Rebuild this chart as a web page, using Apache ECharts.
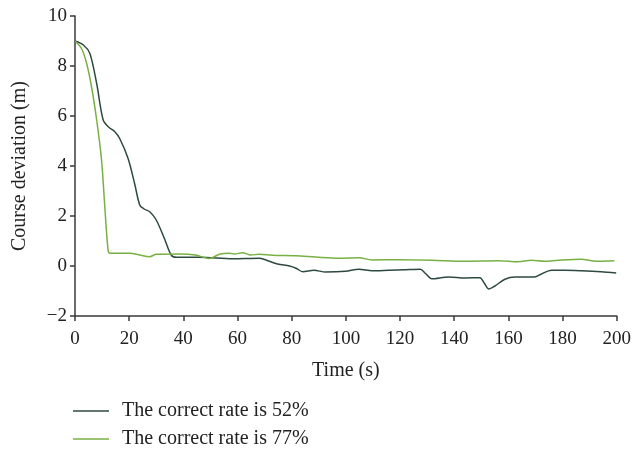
<!DOCTYPE html>
<html>
<head>
<meta charset="utf-8">
<script src="https://cdn.jsdelivr.net/npm/echarts@6/dist/echarts.min.js"></script>
<style>html,body{margin:0;padding:0;background:#fff}#c{width:634px;height:451px}</style>
</head>
<body>
<div id="c"></div>
<script>
var seriesNames = ['The correct rate is 52%', 'The correct rate is 77%'];
var xTicks = [0, 20, 40, 60, 80, 100, 120, 140, 160, 180, 200];
var yTicks = [-2, 0, 2, 4, 6, 8, 10];

var time52 = [0, 3.1, 5.5, 8, 10.4, 12.5, 14.7, 16.5, 19.6, 22, 23.9, 25.5, 27.6, 30, 33, 35.5, 37.4, 46, 58.2, 68, 70.5, 74.8, 79.2, 81.6, 84.1, 88.2, 92.5, 99.9, 104.8, 109.7, 115.8, 121.9, 127.5, 129.3, 131.7, 137.9, 144, 149.5, 151.1, 152.8, 155, 158.7, 162.4, 169.7, 172.2, 175.9, 180.8, 186.9, 194.2, 199.8];
var value52 = [9.0, 8.84, 8.5, 7.3, 5.84, 5.55, 5.37, 5.1, 4.3, 3.3, 2.44, 2.28, 2.17, 1.84, 1.1, 0.44, 0.35, 0.35, 0.29, 0.31, 0.24, 0.08, 0.0, -0.09, -0.23, -0.17, -0.24, -0.21, -0.13, -0.19, -0.17, -0.15, -0.13, -0.29, -0.51, -0.44, -0.48, -0.47, -0.69, -0.92, -0.80, -0.53, -0.44, -0.44, -0.32, -0.17, -0.17, -0.19, -0.23, -0.28];

var time77 = [0, 2.4, 4.3, 6.1, 8, 9.8, 11, 12.2, 12.9, 20.2, 23.9, 27.6, 30, 38.6, 44.4, 49.6, 53.3, 57, 58.8, 61.9, 64.9, 68, 72.9, 81.5, 88.8, 97.4, 104.8, 109.7, 119.5, 131.7, 144, 156.3, 163.6, 168.5, 173.4, 178.3, 186.9, 192.4, 199.1];
var value77 = [9.0, 8.7, 8.1, 7.17, 5.84, 4.24, 2.37, 0.64, 0.51, 0.51, 0.44, 0.37, 0.47, 0.48, 0.44, 0.3, 0.47, 0.51, 0.48, 0.53, 0.44, 0.47, 0.43, 0.41, 0.36, 0.31, 0.33, 0.24, 0.25, 0.23, 0.19, 0.21, 0.17, 0.23, 0.19, 0.23, 0.27, 0.19, 0.21];

function pairs(t, v) { return t.map(function (x, i) { return [x, v[i]]; }); }

var font = 'Liberation Serif';
var axisCol = '#3a3a3a';
var txtCol = '#222';
function legendFor(name, top) {
  return {
    left: 68, top: top, icon: 'rect', itemWidth: 36, itemHeight: 1.5,
    textStyle: { fontFamily: font, fontSize: 20, color: txtCol, padding: [0, 0, 0, 8] },
    data: [name]
  };
}
var chart = echarts.init(document.getElementById('c'));
chart.setOption({
  animation: false,
  grid: { left: 75, right: 15, top: 16, bottom: 135 },
  legend: [legendFor(seriesNames[0], 396), legendFor(seriesNames[1], 424)],
  xAxis: {
    type: 'value', min: 0, max: 200, interval: 20,
    name: 'Time (s)', nameLocation: 'middle', nameGap: 45,
    nameTextStyle: { fontFamily: font, fontSize: 20, color: txtCol },
    axisLine: { show: true, onZero: false, lineStyle: { color: axisCol, width: 1.5 } },
    axisTick: { show: true, length: 5, lineStyle: { color: axisCol, width: 1.5 } },
    axisLabel: { fontFamily: font, fontSize: 19, color: txtCol, margin: 14 },
    splitLine: { show: false }
  },
  yAxis: {
    type: 'value', min: -2, max: 10, interval: 2,
    name: 'Course deviation (m)', nameLocation: 'middle', nameGap: 45,
    nameTextStyle: { fontFamily: font, fontSize: 20, color: txtCol },
    axisLine: { show: true, onZero: false, lineStyle: { color: axisCol, width: 1.5 } },
    axisTick: { show: true, length: 5, lineStyle: { color: axisCol, width: 1.5 } },
    axisLabel: {
      fontFamily: font, fontSize: 19, color: txtCol, margin: 8,
      formatter: function (v) { return v < 0 ? '\u2212' + Math.abs(v) : String(v); }
    },
    splitLine: { show: false }
  },
  series: [
    { name: seriesNames[0], type: 'line', data: pairs(time52, value52), smooth: 0.3, showSymbol: false, symbol: 'none',
      lineStyle: { color: '#2d4a3f', width: 1.5 }, itemStyle: { color: '#2d4a3f' } },
    { name: seriesNames[1], type: 'line', data: pairs(time77, value77), smooth: 0.3, showSymbol: false, symbol: 'none',
      lineStyle: { color: '#78b043', width: 1.5 }, itemStyle: { color: '#78b043' } }
  ]
});
</script>
</body>
</html>
